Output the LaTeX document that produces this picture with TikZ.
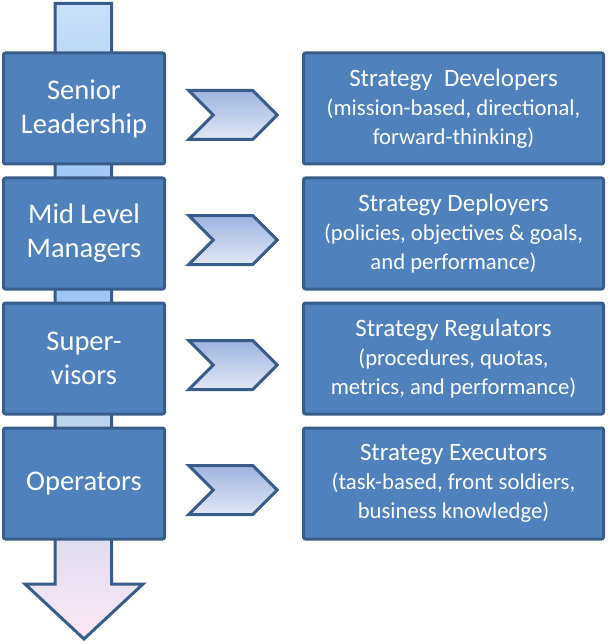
\documentclass[tikz,border=0pt]{standalone}
\usepackage{fontspec}
\setmainfont{Carlito}
\usepackage{xcolor}
\usetikzlibrary{shapes.symbols}

\definecolor{boxblue}{HTML}{4F81BD}
\definecolor{edgeblue}{HTML}{385D8A}
\definecolor{chevtop}{HTML}{9DB3E0}
\definecolor{chevbottom}{HTML}{E2E8F5}
\definecolor{barA}{HTML}{CADFFA}
\definecolor{barB}{HTML}{9DC6F6}
\definecolor{barC}{HTML}{BCD3EC}
\definecolor{barD}{HTML}{E2DEF0}
\definecolor{barE}{HTML}{FCE8F5}

\pgfdeclareverticalshading{flowshade}{100bp}{color(0bp)=(barE); color(25bp)=(barE); color(32bp)=(barD); color(42bp)=(barC); color(52bp)=(barB); color(60bp)=(barB); color(75bp)=(barA); color(100bp)=(barA)}

\newcommand{\rolenote}{\fontsize{22.7pt}{26.5pt}\selectfont}

\begin{document}
\begin{tikzpicture}[x=1pt,y=-1pt]
\tikzset{level box/.style={draw=edgeblue,line width=3pt,fill=boxblue,rounded corners=2pt,text=white,align=center,minimum width=161pt,minimum height=111pt,inner sep=0pt,font=\fontsize{28.5pt}{34pt}\selectfont}}
\tikzset{role box/.style={level box,minimum width=300pt,font=\fontsize{25pt}{29pt}\selectfont}}
\tikzset{chevron/.style={shape=signal,signal from=west,signal to=east,draw=edgeblue,line width=3pt,top color=chevtop,bottom color=chevbottom,minimum width=88.5pt,minimum height=49pt,inner sep=0pt}}

\useasboundingbox (0,0) rectangle (607,644);

% the long arrow behind the levels
\path[draw=edgeblue,line width=3pt,shading=flowshade] (55,3.5) -- (111.5,3.5) -- (111.5,584) -- (143,584) -- (84,639) -- (25,584) -- (55,584) -- cycle;

\node[level box] (senior) at (84,108.5) {Senior\\Leadership};
\node[level box] (mid) at (84,233.5) {Mid Level\\Managers};
\node[level box] (super) at (84,358.5) {Super-\\visors};
\node[level box] (oper) at (84,483.5) {Operators};

\node[chevron] (chev1) at (233,115) {};
\node[chevron] (chev2) at (233,240) {};
\node[chevron] (chev3) at (233,365) {};
\node[chevron] (chev4) at (233,490) {};

\node[role box] (dev) at (453.5,108.5) {Strategy\ \ Developers\\\rolenote (mission-based, directional,\\\rolenote forward-thinking)};
\node[role box] (dep) at (453.5,233.5) {Strategy Deployers\\\rolenote (policies, objectives \& goals,\\\rolenote and performance)};
\node[role box] (reg) at (453.5,358.5) {Strategy Regulators\\\rolenote (procedures, quotas,\\\rolenote metrics, and performance)};
\node[role box] (exe) at (453.5,483.5) {Strategy Executors\\\rolenote (task-based, front soldiers,\\\rolenote business knowledge)};

\end{tikzpicture}
\end{document}
